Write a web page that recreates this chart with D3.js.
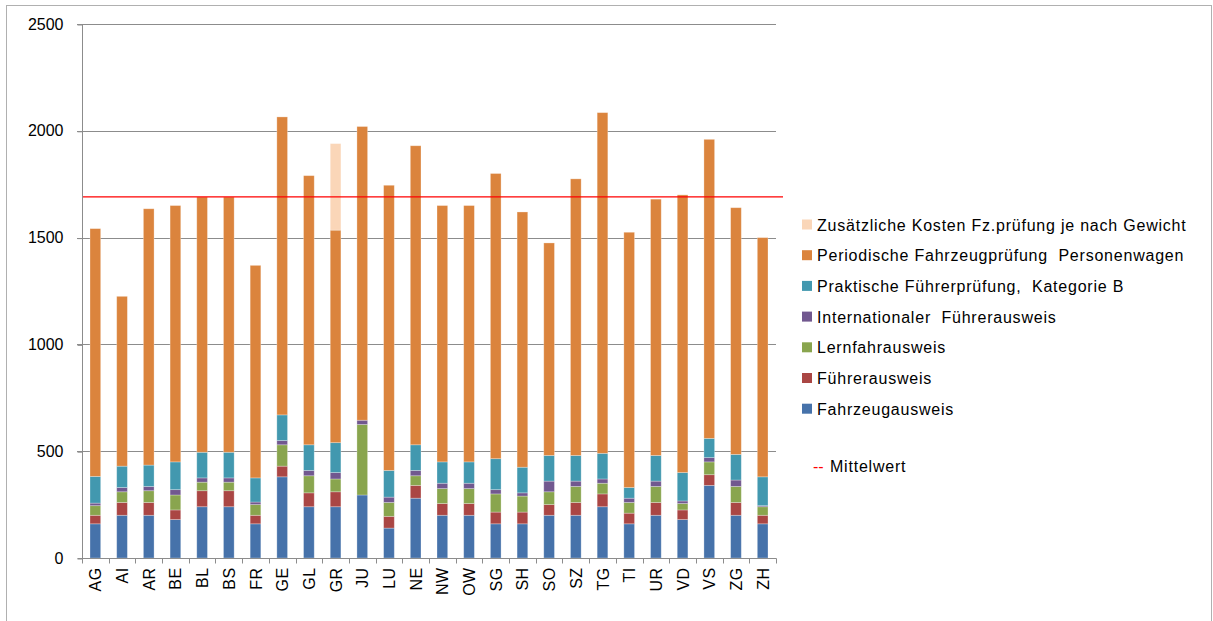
<!DOCTYPE html>
<html>
<head>
<meta charset="utf-8">
<script src="https://cdn.jsdelivr.net/npm/d3@7/dist/d3.min.js"></script>
<style>
  html, body { margin: 0; padding: 0; background: #fff; }
  svg { display: block; font-family: "Liberation Sans", Arial, sans-serif; }
</style>
</head>
<body>
<svg id="chart" width="1213" height="621"></svg>
<script>
// Kantone
const kantone = ["AG","AI","AR","BE","BL","BS","FR","GE","GL","GR","JU","LU","NE","NW","OW","SG","SH","SO","SZ","TG","TI","UR","VD","VS","ZG","ZH"];

// Gebühren je Kanton (CHF)
const fahrzeugausweis      = [160,200,200,180,240,240,160,380,240,240,295,140,280,200,200,160,160,200,200,240,160,200,180,340,200,160];
const fuehrerausweis       = [ 40, 60, 60, 45, 75, 75, 40, 50, 65, 70,  0, 55, 60, 55, 55, 55, 55, 50, 60, 60, 50, 60, 45, 50, 60, 40];
const lernfahrausweis      = [ 45, 50, 55, 70, 40, 40, 50,100, 80, 60,330, 65, 45, 70, 70, 85, 75, 60, 75, 50, 50, 75, 30, 60, 75, 40];
const internationaler      = [ 12, 20, 20, 25, 20, 20, 12, 20, 25, 30, 20, 25, 25, 25, 25, 20, 15, 50, 25, 20, 20, 25, 12, 20, 30,  5];
const praktischePruefung   = [125,100,100,130,120,120,113,120,120,140,  0,125,120,100,100,145,120,120,120,120, 50,120,133, 90,120,135];
const periodischePruefung  = [1160,795,1200,1200,1195,1195,995,1395,1260,995,1375,1335,1400,1200,1200,1335,1195,995,1295,1595,1195,1200,1300,1400,1155,1120];
const zusatzkosten         = [  0,  0,  0,  0,  0,  0,  0,  0,  0,405,  0,  0,  0,  0,  0,  0,  0,  0,  0,  0,  0,  0,  0,  0,  0,  0];

const yTicks = [0, 500, 1000, 1500, 2000, 2500];

const seriesNames = [
  "Fahrzeugausweis",
  "Führerausweis",
  "Lernfahrausweis",
  "Internationaler  Führerausweis",
  "Praktische Führerprüfung,  Kategorie B",
  "Periodische Fahrzeugprüfung  Personenwagen",
  "Zusätzliche Kosten Fz.prüfung je nach Gewicht"
];
const seriesValues = [fahrzeugausweis, fuehrerausweis, lernfahrausweis, internationaler,
                      praktischePruefung, periodischePruefung, zusatzkosten];
const colors = ["#4672AA", "#AA4644", "#89A54E", "#71588F", "#4298AF", "#DB843D", "#FAD6B8"];

// Mittelwert der Grundgebühren (ohne gewichtsabhängige Zusatzkosten)
const totals = kantone.map((k, i) => d3.sum(seriesValues.slice(0, 6), s => s[i]));
const mittelwert = d3.mean(totals);

const svg = d3.select("#chart");
const plot = { left: 82, right: 776, top: 24, bottom: 558 };

// Rahmen
svg.append("rect")
  .attr("x", 6.5).attr("y", 5.5)
  .attr("width", 1205).attr("height", 630)
  .attr("fill", "none").attr("stroke", "#b0b0b0").attr("stroke-width", 1);

const x = d3.scaleBand().domain(kantone).range([plot.left, plot.right]).paddingInner(0.6).paddingOuter(0.3);
const y = d3.scaleLinear().domain([0, 2500]).range([plot.bottom, plot.top]);

// Gitterlinien
svg.append("g").selectAll("line").data(yTicks.filter(t => t > 0)).join("line")
  .attr("x1", plot.left - 5).attr("x2", plot.right)
  .attr("y1", d => Math.round(y(d)) + 0.5).attr("y2", d => Math.round(y(d)) + 0.5)
  .attr("stroke", "#8c8c8c").attr("stroke-width", 1);

// Gestapelte Balken
const table = kantone.map((k, i) => {
  const row = { kanton: k };
  seriesValues.forEach((s, j) => row["s" + j] = s[i]);
  return row;
});
const keys = seriesValues.map((s, j) => "s" + j);
const stacked = d3.stack().keys(keys)(table);

svg.append("g").selectAll("g").data(stacked).join("g")
  .attr("fill", (d, j) => colors[j])
  .selectAll("rect").data(d => d.filter(p => p[1] - p[0] > 0)).join("rect")
  .attr("x", d => x(d.data.kanton))
  .attr("width", x.bandwidth())
  .attr("y", d => y(d[1]))
  .attr("height", d => y(d[0]) - y(d[1]))
  .attr("stroke", "rgba(255,255,255,0.35)")
  .attr("stroke-width", 0.8);

// Y-Achse
const yAxis = d3.axisLeft(y).tickValues(yTicks).tickSize(5).tickPadding(14).tickFormat(d3.format("d"));
const gy = svg.append("g").attr("transform", `translate(${plot.left + 0.5},0)`).call(yAxis);
gy.select(".domain").attr("stroke", "#8c8c8c").attr("d", `M-5,${plot.bottom + 0.5}H0V${plot.top}`);
gy.selectAll(".tick line").attr("stroke", "#8c8c8c").attr("transform", "translate(0,0.5)");
gy.selectAll(".tick text").attr("font-size", 16).attr("fill", "#000")
  .attr("font-family", "Liberation Sans, Arial, sans-serif");

// X-Achse
const gx = svg.append("g").attr("transform", `translate(0,${plot.bottom + 0.5})`);
gx.append("line").attr("x1", plot.left).attr("x2", plot.right + 0.5).attr("stroke", "#8c8c8c");
const step = x.step();
const boundaries = kantone.map((k, i) => plot.left + i * step).concat([plot.right]);
gx.selectAll("line.tk").data(boundaries).join("line").attr("class", "tk")
  .attr("x1", d => Math.round(d) + 0.5).attr("x2", d => Math.round(d) + 0.5)
  .attr("y1", 0).attr("y2", 5).attr("stroke", "#8c8c8c");
gx.selectAll("text").data(kantone).join("text")
  .attr("transform", d => `translate(${x(d) + x.bandwidth() / 2 + 6},9) rotate(-90)`)
  .attr("text-anchor", "end")
  .attr("font-size", 16).attr("fill", "#000")
  .attr("letter-spacing", 0.4)
  .text(d => d);

// Mittelwert-Linie
svg.append("line")
  .attr("x1", plot.left + 1).attr("x2", 783)
  .attr("y1", y(mittelwert)).attr("y2", y(mittelwert))
  .attr("stroke", "#FF0000").attr("stroke-width", 1.3);

// Legende
const legendOrder = [6, 5, 4, 3, 2, 1, 0];
const lg = svg.append("g").attr("transform", "translate(802,0)");
legendOrder.forEach((j, r) => {
  const cy = 224.5 + r * 30.7;
  lg.append("rect").attr("x", 0).attr("y", cy - 5).attr("width", 10).attr("height", 10).attr("fill", colors[j]);
  lg.append("text").attr("x", 15).attr("y", cy + 6).attr("font-size", 16).attr("fill", "#000")
    .attr("letter-spacing", 0.78)
    .style("white-space", "pre").text(seriesNames[j]);
});
lg.append("text").attr("x", 11).attr("y", 471.5).attr("font-size", 16).attr("fill", "#FF0000").text("--");
lg.append("text").attr("x", 28).attr("y", 471.5).attr("font-size", 16).attr("fill", "#000")
  .attr("letter-spacing", 0.78).text("Mittelwert");
</script>
</body>
</html>
